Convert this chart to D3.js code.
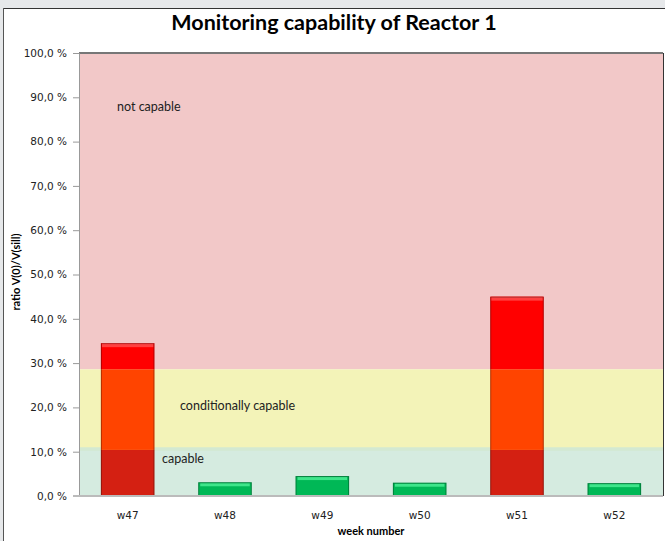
<!DOCTYPE html>
<html>
<head>
<meta charset="utf-8">
<script src="https://cdn.jsdelivr.net/npm/d3@7"></script>
<style>
  body { margin: 0; background: #e6e8ea; }
  svg { display: block; }
</style>
</head>
<body>
<svg id="chart" width="665" height="541"></svg>
<script>
// data
var weeks = ["w47", "w48", "w49", "w50", "w51", "w52"];
var ratios = [34.5, 3.1, 4.5, 3.0, 45.0, 2.9];
var bandNames = ["capable", "conditionally capable", "not capable"];
var bandFrom = [0, 10.2, 28.6];
var bandTo = [11, 28.6, 100];
var yTicks = [0, 10, 20, 30, 40, 50, 60, 70, 80, 90, 100];

var bandFill = ["#cbe6d8", "#f3f3b8", "#f2c8c8"];
var redBarFill = ["#d42012", "#ff4400", "#ff0000"];
var redTop = "#ff4040";
var greenFill = "#00b856", greenTop = "#3ee58a";
var limit = 28.6;

var svg = d3.select("#chart");
var m = {left: 79, right: 663, top: 53, bottom: 496};

// frame
svg.append("rect").attr("x", 3).attr("y", 8).attr("width", 662).attr("height", 533).attr("fill", "#fff");
svg.append("line").attr("x1", 3).attr("x2", 665).attr("y1", 8.5).attr("y2", 8.5).attr("stroke", "#333");
svg.append("line").attr("x1", 3.5).attr("x2", 3.5).attr("y1", 8).attr("y2", 541).attr("stroke", "#555");

var x = d3.scaleBand().domain(weeks).range([m.left, m.right]).paddingInner(0.45).paddingOuter(0.225);
var y = d3.scaleLinear().domain([0, 100]).range([m.bottom, m.top]);

// bands (green drawn last so the overlap strip shows)
var order = [2, 1, 0];
svg.append("g").selectAll("rect").data(order).join("rect")
  .attr("x", m.left).attr("width", m.right - m.left)
  .attr("y", function(i){ return y(bandTo[i]); })
  .attr("height", function(i){ return y(bandFrom[i]) - y(bandTo[i]); })
  .attr("fill", function(i){ return bandFill[i]; })
  .attr("fill-opacity", function(i){ return i == 0 ? 0.8 : 1; });

// plot border
svg.append("line").attr("x1", m.left).attr("x2", m.right).attr("y1", m.top).attr("y2", m.top).attr("stroke", "#777").attr("stroke-width", 2);
svg.append("line").attr("x1", m.right + 0.5).attr("x2", m.right + 0.5).attr("y1", m.top).attr("y2", m.bottom).attr("stroke", "#333");

// bars
var bars = svg.append("g");
weeks.forEach(function(w, i){
  var v = ratios[i];
  var bx = x(w), bw = x.bandwidth();
  if(v > limit){
    var cuts = [0, 10.4, limit, v];
    for(var b=0; b<3; b++){
      bars.append("rect").attr("x", bx).attr("width", bw)
        .attr("y", y(cuts[b+1])).attr("height", y(cuts[b]) - y(cuts[b+1]))
        .attr("fill", redBarFill[b]);
    }
    bars.append("rect").attr("x", bx + 1).attr("width", bw - 2)
      .attr("y", y(v)).attr("height", 4).attr("fill", redTop);
  } else {
    bars.append("rect").attr("x", bx).attr("width", bw)
      .attr("y", y(v)).attr("height", y(0) - y(v)).attr("fill", greenFill);
    bars.append("rect").attr("x", bx + 2).attr("width", bw - 4)
      .attr("y", y(v) + 1).attr("height", 3).attr("fill", greenTop);
  }
  bars.append("rect").attr("x", bx + 0.5).attr("width", bw - 1)
    .attr("y", y(v) + 0.5).attr("height", y(0) - y(v) - 0.5)
    .attr("fill", "none").attr("stroke", "rgba(0,0,0,0.3)");
});

// axes
var yAxis = svg.append("g").attr("transform", "translate(" + m.left + ",0)")
  .call(d3.axisLeft(y).tickValues(yTicks).tickSize(6).tickPadding(6)
    .tickFormat(function(d){ return d.toFixed(1).replace(".", ",") + " %"; }));
yAxis.select(".domain").attr("stroke", "#999");
yAxis.selectAll(".tick line").attr("stroke", "#999");
yAxis.selectAll("text").attr("font-family", "DejaVu Sans").attr("font-size", 10.5).attr("fill", "#222");

var xAxis = svg.append("g").attr("transform", "translate(0," + m.bottom + ")")
  .call(d3.axisBottom(x).tickSize(0).tickPadding(16));
xAxis.select(".domain").attr("stroke", "#bbb").attr("stroke-width", 2).attr("d", "M" + (m.left - 6) + ",0H" + m.right);
xAxis.selectAll("text").attr("font-family", "DejaVu Sans").attr("font-size", 10.5).attr("fill", "#222");

// band labels
var labelX = [162, 180, 117];
var labelY = [463, 410, 111];
svg.append("g").selectAll("text").data(bandNames).join("text")
  .attr("x", function(d, i){ return labelX[i]; })
  .attr("y", function(d, i){ return labelY[i]; })
  .attr("font-family", "Lato").attr("font-size", 12.5).attr("fill", "#222")
  .text(function(d){ return d; });

// titles
svg.append("text").attr("x", 334).attr("y", 30).attr("text-anchor", "middle")
  .attr("font-family", "Lato").attr("font-weight", "bold").attr("font-size", 21.5).attr("fill", "#000")
  .text("Monitoring capability of Reactor 1");
svg.append("text").attr("x", 371).attr("y", 535).attr("text-anchor", "middle")
  .attr("font-family", "Lato").attr("font-weight", "bold").attr("font-size", 11).attr("fill", "#000")
  .text("week number");
svg.append("text").attr("transform", "translate(20,272) rotate(-90)").attr("text-anchor", "middle")
  .attr("font-family", "Lato").attr("font-weight", "bold").attr("font-size", 11).attr("fill", "#000")
  .text("ratio  V(0)/V(sill)");
</script>
</body>
</html>
